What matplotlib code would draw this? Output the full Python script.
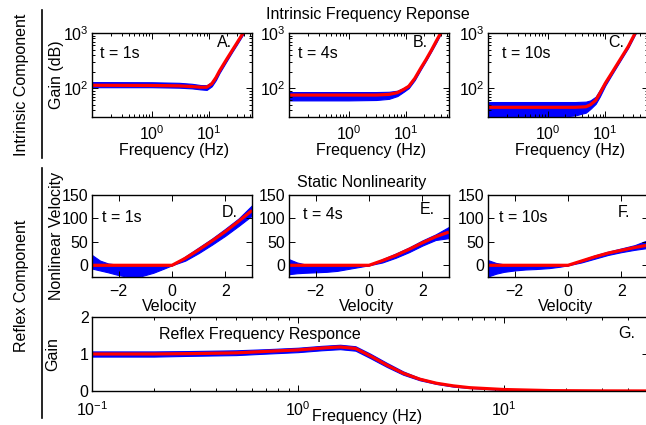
import numpy as np
import matplotlib.pyplot as plt
from matplotlib.lines import Line2D
from matplotlib.ticker import NullFormatter

plt.rcParams['font.family'] = ['Liberation Sans', 'DejaVu Sans']
plt.rcParams['font.size'] = 11.5
plt.rcParams['mathtext.default'] = 'regular'

W, H = 646, 425

# intrinsic frequency response (gain vs Hz), red = estimate, lo/hi = blue ensemble band
freq_a = [0.09, 1, 3, 5, 7, 9, 11, 13, 15, 20, 25, 30, 38.6, 45, 60]
red_a = [113, 112, 110, 107, 104, 104, 120, 155, 205, 335, 485, 655, 1000, 1300, 2100]
lo_a = [104, 104, 102, 99, 95, 93, 108, 140, 188, 310, 455, 615, 940, 1220, 1900]
hi_a = [129, 128, 125, 120, 114, 113, 130, 168, 222, 360, 515, 695, 1060, 1380, 2250]

freq_b = [0.09, 1, 3, 5, 7, 9, 11, 14, 18, 22, 27, 33, 39.5, 48, 60]
red_b = [75, 75, 75, 77, 83, 95, 108, 150, 235, 330, 480, 710, 1000, 1400, 2100]
lo_b = [60, 60, 61, 64, 72, 86, 100, 140, 222, 315, 460, 670, 960, 1340, 2000]
hi_b = [85, 85, 85, 86, 90, 101, 115, 160, 250, 348, 505, 750, 1050, 1460, 2200]

freq_c = [0.09, 1, 3, 4.6, 5.5, 6.8, 8, 10, 13, 18.7, 25, 33, 40, 60]
red_c = [45, 45, 45, 46, 50, 60, 80, 123, 190, 350, 570, 1000, 1400, 3000]
lo_c = [28, 29, 32, 36, 42, 52, 70, 112, 177, 330, 540, 950, 1330, 2850]
hi_c = [56, 56, 56, 57, 60, 70, 92, 135, 204, 372, 600, 1050, 1470, 3150]

# static nonlinearity
vel = [-3, -2.7, -2.4, -2, -1.6, -1.2, -0.7, -0.3, 0, 0.5, 1, 1.5, 2, 2.5, 3]
red_d = [0, 0, 0, 0, 0, 0, 0, 0, 0, 15, 33, 52, 72, 94, 117]
lo_d = [-7, -11, -15, -21, -25, -24, -16, -7, 0, 10, 26, 44, 63, 84, 106]
hi_d = [22, 10, 4, 1, 1, 1, 1, 0, 0, 19, 38, 57, 78, 100, 128]

red_e = [0, 0, 0, 0, 0, 0, 0, 0, 0, 10, 21, 34, 48, 61, 71]
lo_e = [-19, -17, -16, -15, -14, -12, -7, -3, 0, 6, 16, 28, 42, 54, 58]
hi_e = [13, 6, 2, 1, 1, 1, 0, 0, 0, 13, 25, 38, 53, 66, 82]

red_f = [0, 0, 0, 0, 0, 0, 0, 0, 0, 9, 18, 26, 32, 38, 43]
lo_f = [-24, -18, -14, -11, -9, -8, -6, -3, 0, 6, 14, 22, 28, 33, 37]
hi_f = [11, 5, 2, 1, 1, 1, 0, 0, 0, 11, 21, 29, 36, 43, 54]

# reflex frequency response
freq_g = [0.1, 0.2, 0.3, 0.5, 0.7, 1.0, 1.3, 1.6, 1.9, 2.24, 2.7, 3.24, 3.9, 4.7, 5.65, 6.8, 10, 17, 30, 50]
red_g = [1.0, 1.0, 1.01, 1.03, 1.07, 1.11, 1.16, 1.19, 1.15, 0.95, 0.70, 0.48, 0.32, 0.21, 0.14, 0.09, 0.04, 0.01, 0.003, 0.001]
lo_g = [0.93, 0.93, 0.95, 0.97, 1.01, 1.05, 1.10, 1.13, 1.09, 0.89, 0.65, 0.44, 0.29, 0.19, 0.12, 0.08, 0.03, 0.005, 0.001, 0.0]
hi_g = [1.07, 1.07, 1.08, 1.10, 1.13, 1.17, 1.22, 1.25, 1.21, 1.01, 0.76, 0.53, 0.35, 0.23, 0.16, 0.11, 0.05, 0.015, 0.005, 0.002]

top_times = ['t = 1s', 't = 4s', 't = 10s']
letters = ['A.', 'B.', 'C.', 'D.', 'E.', 'F.', 'G.']


def box(l, t, r, b):
    return [l / W, 1 - b / H, (r - l) / W, (b - t) / H]


def px(x, y):
    return x / W, 1 - y / H


def style(ax, xpad):
    for s in ax.spines.values():
        s.set_linewidth(1.0)
    ax.tick_params(which='both', direction='in', top=True, right=True, width=0.7)
    ax.tick_params(which='major', length=4, pad=2.5)
    ax.tick_params(which='minor', length=2.2)
    ax.tick_params(axis='x', which='major', pad=xpad)


def band(ax, x, red, lo, hi):
    ax.fill_between(x, lo, hi, color='#0000ff', lw=0.8, edgecolor='#0000ff')
    ax.plot(x, red, color='#ff0000', lw=2.3, solid_capstyle='butt')


fig = plt.figure(figsize=(W / 100, H / 100), dpi=100)

# top row
top_boxes = [(92, 33, 252, 117), (289, 33, 449, 117), (488, 33, 648, 117)]
top_data = [(freq_a, red_a, lo_a, hi_a), (freq_b, red_b, lo_b, hi_b), (freq_c, red_c, lo_c, hi_c)]
top_t_x = [0.05, 0.056, 0.09]
top_let_x = [0.78, 0.775, 0.75]
for i in range(3):
    ax = fig.add_axes(box(*top_boxes[i]))
    band(ax, *top_data[i])
    ax.set_xscale('log')
    ax.set_yscale('log')
    ax.set_xlim(0.092, 55)
    ax.set_ylim(30, 1000)
    ax.set_xticks([1, 10])
    ax.set_yticks([100, 1000])
    ax.xaxis.set_minor_formatter(NullFormatter())
    ax.yaxis.set_minor_formatter(NullFormatter())
    style(ax, 5)
    ax.text(top_t_x[i], 0.76, top_times[i], transform=ax.transAxes, va='center')
    ax.text(top_let_x[i], 0.89, letters[i], transform=ax.transAxes, va='center')
    l, t, r, b = top_boxes[i]
    fig.text(*px((l + r) / 2 + 2, 150), 'Frequency (Hz)', ha='center', va='center')

# middle row
mid_boxes = [(92, 195, 252, 277), (289, 195, 449, 277), (488, 195, 648, 277)]
mid_data = [(red_d, lo_d, hi_d), (red_e, lo_e, hi_e), (red_f, lo_f, hi_f)]
mid_t = [(0.0625, 0.73), (0.0875, 0.76), (0.07, 0.72)]
mid_let = [(0.81, 0.79), (0.82, 0.82), (0.81, 0.79)]
for i in range(3):
    ax = fig.add_axes(box(*mid_boxes[i]))
    red, lo, hi = mid_data[i]
    band(ax, vel, red, lo, hi)
    ax.set_xlim(-3, 3)
    ax.set_ylim(-25, 150)
    ax.set_xticks([-2, 0, 2])
    ax.set_yticks([0, 50, 100, 150])
    style(ax, 5)
    ax.text(mid_t[i][0], mid_t[i][1], top_times[i], transform=ax.transAxes, va='center')
    ax.text(mid_let[i][0], mid_let[i][1], letters[3 + i], transform=ax.transAxes, va='center')
    l, t, r, b = mid_boxes[i]
    fig.text(*px((l + r) / 2 - 2, 307), 'Velocity', ha='center', va='center')

# bottom panel
ax = fig.add_axes(box(92, 317, 648, 391))
band(ax, freq_g, red_g, lo_g, hi_g)
ax.set_xscale('log')
ax.set_xlim(0.1, 50)
ax.set_ylim(0, 2)
ax.set_xticks([0.1, 1, 10])
ax.set_yticks([0, 1, 2])
ax.xaxis.set_minor_formatter(NullFormatter())
style(ax, 6.5)
ax.text(0.946, 0.78, letters[6], transform=ax.transAxes, va='center')
fig.text(*px(159, 335), 'Reflex Frequency Responce', va='center')
fig.text(*px(367, 416), 'Frequency (Hz)', ha='center', va='center')

# titles, y labels, side labels
fig.text(*px(368, 15), 'Intrinsic Frequency Reponse', ha='center', va='center')
fig.text(*px(362, 182), 'Static Nonlinearity', ha='center', va='center')
fig.text(*px(57, 75), 'Gain (dB)', rotation=90, ha='center', va='center')
fig.text(*px(56, 236), 'Nonlinear Velocity', rotation=90, ha='center', va='center')
fig.text(*px(53, 354), 'Gain', rotation=90, ha='center', va='center')
fig.text(*px(22, 85), 'Intrinsic Component', rotation=90, ha='center', va='center')
fig.text(*px(22, 286), 'Reflex Component', rotation=90, ha='center', va='center')

fig.add_artist(Line2D([42 / W, 42 / W], [1 - 10 / H, 1 - 158 / H], color='k', lw=1.2))
fig.add_artist(Line2D([42 / W, 42 / W], [1 - 168 / H, 1 - 418 / H], color='k', lw=1.2))

fig.savefig('out.png', dpi=100)
